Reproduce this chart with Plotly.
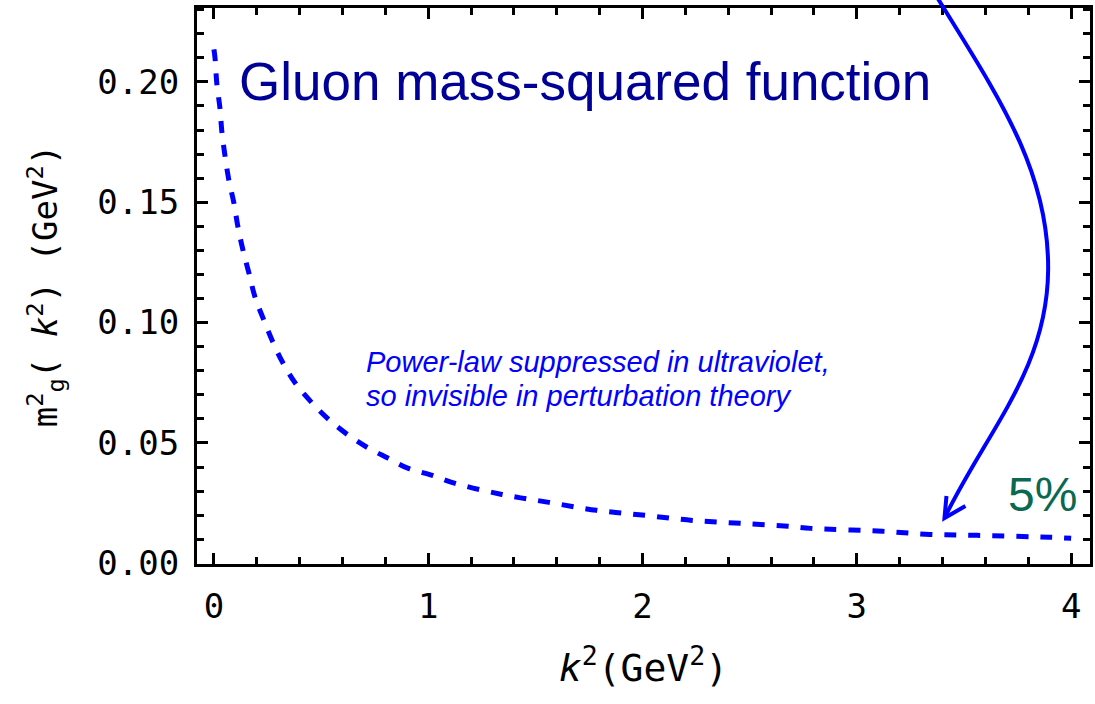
import plotly.graph_objects as go

# ---- data ----
k2 = [0.0, 0.005, 0.014, 0.028, 0.037, 0.051, 0.070, 0.093, 0.112, 0.135, 0.163, 0.191,
      0.228, 0.274, 0.321, 0.381, 0.456, 0.530, 0.623, 0.716, 0.814, 0.907, 1.019,
      1.126, 1.344, 1.563, 1.786, 2.014, 2.233, 2.456, 2.679, 2.786, 3.12, 3.34,
      3.56, 3.90, 4.0]
mg2 = [0.2135, 0.2100, 0.1988, 0.1892, 0.1793, 0.1697, 0.1590, 0.1498, 0.1398, 0.1303,
       0.1207, 0.1108, 0.1021, 0.0921, 0.0834, 0.0747, 0.0668, 0.0602, 0.0535, 0.0481,
       0.0436, 0.0394, 0.0365, 0.0332, 0.0286, 0.0253, 0.0220, 0.0199, 0.0178, 0.0166,
       0.0154, 0.0145, 0.0133, 0.0120, 0.0116, 0.0108, 0.0104]

x_ticks = [0, 1, 2, 3, 4]
y_ticks = [0.00, 0.05, 0.10, 0.15, 0.20]
y_tick_labels = ["0.00", "0.05", "0.10", "0.15", "0.20"]

title_text = "Gluon mass-squared function"
note_lines = ["Power-law suppressed in ultraviolet,", "so invisible in perturbation theory"]
pct_text = "5%"

# ---- layout geometry (pixels) ----
W, H = 1095, 704
L, R, T, B = 197, 1093, 8, 564

def px(xp):
    return (xp - L) / (R - L)

def py(yp):
    return (B - yp) / (B - T)

fig = go.Figure()
fig.add_trace(go.Scatter(
    x=k2, y=mg2, mode="lines",
    line=dict(color="rgb(0,0,255)", width=5, dash="12px,12px", shape="spline"),
    showlegend=False, hoverinfo="skip"))

tickfont = dict(family="DejaVu Sans Mono", size=34, color="black")
axis_common = dict(
    showline=True, linecolor="black", linewidth=3, mirror="allticks",
    ticks="inside", ticklen=11, tickwidth=2.5, tickcolor="black",
    showgrid=False, zeroline=False, tickfont=tickfont,
)

fig.update_xaxes(
    range=[-0.079, 4.088], tickvals=x_ticks, ticktext=[str(v) for v in x_ticks],
    minor=dict(ticks="inside", dtick=0.2, ticklen=7, tickwidth=2.5, tickcolor="black", showgrid=False),
    title=dict(text="<i>k</i><sup>2</sup>(GeV<sup>2</sup>)",
               font=dict(family="DejaVu Sans Mono", size=38, color="black"), standoff=30),
    ticklabelstandoff=10,
    **axis_common)
fig.update_yaxes(
    range=[-0.0003, 0.2307], tickvals=y_ticks, ticktext=y_tick_labels,
    minor=dict(ticks="inside", dtick=0.01, ticklen=7, tickwidth=2.5, tickcolor="black", showgrid=False),
    title=dict(text="m<sup>2</sup><sub>g</sub>( <i>k</i><sup>2</sup>) (GeV<sup>2</sup>)",
               font=dict(family="DejaVu Sans Mono", size=34, color="black"), standoff=30),
    ticklabelstandoff=8,
    **axis_common)

annotations = [
    dict(x=0.107, y=0.2, xref="x", yref="y", text=title_text, showarrow=False,
         xanchor="left", yanchor="middle",
         font=dict(family="Liberation Sans", size=53, color="rgb(0,0,150)")),
    dict(x=0.70, y=0.0838, xref="x", yref="y", text="<i>" + note_lines[0] + "</i>",
         showarrow=False, xanchor="left", yanchor="middle",
         font=dict(family="Liberation Sans", size=29, color="rgb(0,0,255)")),
    dict(x=0.70, y=0.0697, xref="x", yref="y", text="<i>" + note_lines[1] + "</i>",
         showarrow=False, xanchor="left", yanchor="middle",
         font=dict(family="Liberation Sans", size=29, color="rgb(0,0,255)")),
    dict(x=3.865, y=0.0286, xref="x", yref="y", text=pct_text, showarrow=False,
         xanchor="center", yanchor="middle",
         font=dict(family="Liberation Sans", size=48, color="rgb(10,105,80)")),
]

arrow_path = "M {} {} C {} {} {} {} {} {} C {} {} {} {} {} {}".format(
    px(940), py(-2), px(1000), py(95), px(1052), py(170), px(1051), py(270),
    px(1050), py(370), px(990), py(430), px(947), py(518))
head_path = "M {} {} L {} {} L {} {}".format(
    px(949), py(496), px(947), py(518), px(968), py(506))

shapes = [
    dict(type="path", path=arrow_path, xref="paper", yref="paper",
         line=dict(color="rgb(0,0,255)", width=4)),
    dict(type="path", path=head_path, xref="paper", yref="paper",
         line=dict(color="rgb(0,0,255)", width=4)),
]

fig.update_layout(
    width=W, height=H,
    margin=dict(l=L, r=W - R, t=T, b=H - B),
    paper_bgcolor="white", plot_bgcolor="white",
    annotations=annotations, shapes=shapes,
)

fig.write_html("out.html")
